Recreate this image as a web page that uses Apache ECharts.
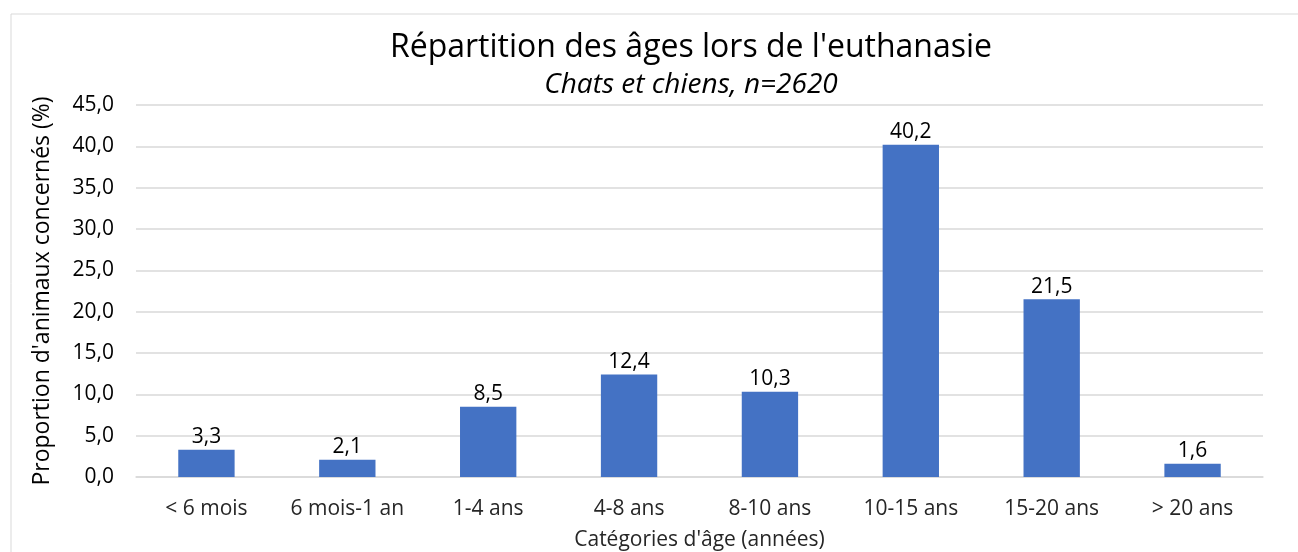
<!DOCTYPE html>
<html>
<head>
<meta charset="utf-8">
<script src="https://cdn.jsdelivr.net/npm/echarts@6/dist/echarts.min.js"></script>
<style>
  html, body { margin: 0; padding: 0; background: #fff; }
  #chart { width: 1298px; height: 552px; }
</style>
</head>
<body>
<div id="chart"></div>
<script>
  // données
  var categories = ['< 6 mois', '6 mois-1 an', '1-4 ans', '4-8 ans', '8-10 ans', '10-15 ans', '15-20 ans', '> 20 ans'];
  var proportions = [3.3, 2.1, 8.5, 12.4, 10.3, 40.2, 21.5, 1.6];

  var fr = function (v) { return Number(v).toFixed(1).replace('.', ','); };
  var font = '"Open Sans", "Noto Sans", sans-serif';

  var chart = echarts.init(document.getElementById('chart'));
  chart.setOption({
    animation: false,
    textStyle: { fontFamily: font },
    graphic: [{
      type: 'rect',
      shape: { x: 11, y: 14, width: 1300, height: 560 },
      style: { fill: 'none', stroke: '#d9d9d9', lineWidth: 1 },
      silent: true
    }],
    title: {
      text: "Répartition des âges lors de l'euthanasie",
      subtext: 'Chats et chiens, n=2620',
      left: 686,
      textAlign: 'center',
      top: 27,
      itemGap: 7,
      textStyle: { fontFamily: font, fontSize: 32, fontWeight: 'normal', color: '#000' },
      subtextStyle: { fontFamily: font, fontSize: 28, fontStyle: 'italic', color: '#000' }
    },
    grid: { left: 136, right: 35, top: 105, bottom: 75, outerBoundsMode: 'none' },
    xAxis: {
      type: 'category',
      data: categories,
      name: "Catégories d'âge (années)",
      nameLocation: 'middle',
      nameGap: 53,
      nameTextStyle: { fontFamily: font, fontSize: 21, color: '#262626' },
      axisLine: { lineStyle: { color: '#d9d9d9', width: 1.5 } },
      axisTick: { show: false },
      axisLabel: { fontFamily: font, fontSize: 21, color: '#262626', margin: 22, interval: 0 }
    },
    yAxis: {
      type: 'value',
      min: 0,
      max: 45,
      interval: 5,
      name: "Proportion d'animaux concernés (%)",
      nameLocation: 'middle',
      nameGap: 82,
      nameTextStyle: { fontFamily: font, fontSize: 23, color: '#000' },
      axisLine: { show: false },
      axisTick: { show: false },
      splitLine: { lineStyle: { color: '#d9d9d9', width: 1.5 } },
      axisLabel: { fontFamily: font, fontSize: 21, color: '#000', margin: 22, formatter: fr }
    },
    series: [{
      type: 'bar',
      data: proportions,
      barWidth: '40%',
      itemStyle: { color: '#4472c4' },
      label: {
        show: true,
        position: 'top',
        distance: 2,
        fontFamily: font,
        fontSize: 21,
        color: '#000',
        formatter: function (p) { return fr(p.value); }
      }
    }]
  });
</script>
</body>
</html>
